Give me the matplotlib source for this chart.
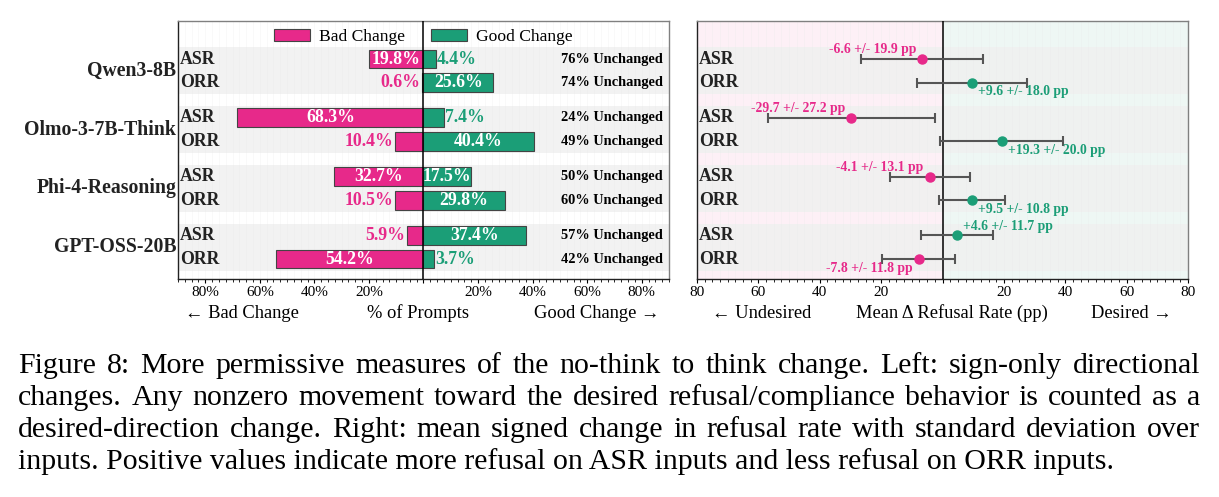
import numpy as np
import matplotlib
matplotlib.use('Agg')
import matplotlib.pyplot as plt
from matplotlib.ticker import MultipleLocator, FuncFormatter

plt.rcParams['font.family'] = ['Liberation Serif', 'DejaVu Serif']

##------------------------------------- DATA -------------------------------------
models = ['Qwen3-8B', 'Olmo-3-7B-Think', 'Phi-4-Reasoning', 'GPT-OSS-20B']
rows = ['ASR', 'ORR']

# left panel: % of prompts with bad / good directional change (ASR, ORR per model)
bad_change = [19.8, 0.6, 68.3, 10.4, 32.7, 10.5, 5.9, 54.2]
good_change = [4.4, 25.6, 7.4, 40.4, 17.5, 29.8, 37.4, 3.7]

# right panel: mean signed change in refusal rate (pp) and std
mean_delta = [-6.6, 9.6, -29.7, 19.3, -4.1, 9.5, 4.6, -7.8]
std_delta = [19.9, 18.0, 27.2, 20.0, 13.1, 10.8, 11.7, 11.8]

caption = [
    "Figure 8: More permissive measures of the no-think to think change. Left: sign-only directional",
    "changes. Any nonzero movement toward the desired refusal/compliance behavior is counted as a",
    "desired-direction change. Right: mean signed change in refusal rate with standard deviation over",
    "inputs. Positive values indicate more refusal on ASR inputs and less refusal on ORR inputs.",
]

PINK = '#E7298A'
GREEN = '#1B9E77'

##------------------------------------- LAYOUT -------------------------------------
W, H = 1219, 497
fig = plt.figure(figsize=(W / 100, H / 100), dpi=100)

def px_axes(x0, y0, x1, y1):
    return fig.add_axes([x0 / W, 1 - y1 / H, (x1 - x0) / W, (y1 - y0) / H])

axL = px_axes(178, 21, 669, 279)
axR = px_axes(697, 21, 1188, 279)

centers = np.arange(len(models)) * 2.5
ypos = np.ravel([[c - 0.5, c + 0.5] for c in centers])

def style_axes(ax, xmax, fmt):
    ax.set_xlim(-xmax, xmax)
    ax.set_ylim(8.85, -2.115)
    ax.set_yticks([])
    for c in centers:
        ax.axhspan(c - 1, c + 1, color='#f0f0f0', alpha=0.85, lw=0, zorder=0.5)
    ax.xaxis.set_major_locator(MultipleLocator(20))
    ax.xaxis.set_minor_locator(MultipleLocator(2.5))
    ax.xaxis.set_major_formatter(FuncFormatter(fmt))
    ax.tick_params(axis='x', which='both', direction='out', length=3, width=0.8,
                   pad=2, labelsize=11, top=False)
    ax.tick_params(axis='x', which='minor', length=2, width=0.6)
    ax.grid(axis='x', which='both', color='#e8e8e8', lw=0.5, alpha=0.35, zorder=0.6)
    ax.set_axisbelow(True)
    for s in ['top', 'right']:
        ax.spines[s].set_color('#808080')
    for s in ['left', 'bottom']:
        ax.spines[s].set_color('#222222')
    for sp in ax.spines.values():
        sp.set_linewidth(1.0)
    ax.axvline(0, color='black', lw=1.1, zorder=3)
    for y, r in zip(ypos, rows * len(models)):
        ax.text(0.004, y, r, transform=ax.get_yaxis_transform(), ha='left', va='center',
                fontsize=12.8, fontweight='bold', color='#222222', zorder=5)

##------------------------------------- LEFT PANEL -------------------------------------
style_axes(axL, 90, lambda v, p: '' if abs(v) < 1e-9 else f'{abs(v):.0f}%')

axL.barh(ypos, [-b for b in bad_change], height=0.8, color=PINK, edgecolor='#444444',
         lw=0.8, zorder=2, label='Bad Change')
axL.barh(ypos, good_change, height=0.8, color=GREEN, edgecolor='#444444',
         lw=0.8, zorder=2, label='Good Change')

for y, b, g in zip(ypos, bad_change, good_change):
    if b > 15:
        axL.text(-b / 2, y, f'{b:.1f}%', ha='center', va='center', color='white',
                 fontsize=12.8, fontweight='bold', zorder=4)
    else:
        axL.text(-b - 0.7, y, f'{b:.1f}%', ha='right', va='center', color=PINK,
                 fontsize=12.8, fontweight='bold', zorder=4)
    if g > 15:
        axL.text(g / 2, y, f'{g:.1f}%', ha='center', va='center', color='white',
                 fontsize=12.8, fontweight='bold', zorder=4)
    else:
        axL.text(g + 0.5, y, f'{g:.1f}%', ha='left', va='center', color=GREEN,
                 fontsize=12.8, fontweight='bold', zorder=4)
    unchanged = 100 - b - g
    axL.text(0.988, y, f'{unchanged:.0f}% Unchanged', transform=axL.get_yaxis_transform(),
             ha='right', va='center', fontsize=10.4, fontweight='bold', color='black', zorder=4)

axL.legend(loc='upper center', bbox_to_anchor=(0.5, 1.03), ncol=2, frameon=False,
           fontsize=12.6, handlelength=2.05, handletextpad=0.5, columnspacing=1.5)

for c, m in zip(centers, models):
    axL.text(-0.004, c, m, transform=axL.get_yaxis_transform(), ha='right', va='center',
             fontsize=14.2, fontweight='bold', color='#222222')

##------------------------------------- RIGHT PANEL -------------------------------------
style_axes(axR, 80, lambda v, p: '' if abs(v) < 1e-9 else f'{abs(v):.0f}')
axR.axvspan(-80, 0, color='#fdf0f6', lw=0, zorder=0.1)
axR.axvspan(0, 80, color='#eef7f4', lw=0, zorder=0.1)

for i, (y, m, s) in enumerate(zip(ypos, mean_delta, std_delta)):
    col = GREEN if m > 0 else PINK
    axR.errorbar(m, y, xerr=s, fmt='none', ecolor='#555555', elinewidth=1.5,
                 capsize=3.5, capthick=1.5, zorder=3)
    axR.plot(m, y, 'o', color=col, ms=6.5, zorder=4)
    dy = 6.5 if i % 2 == 0 else -6.5
    dx = 4.5 if m > 0 else -4.5
    axR.annotate(f'{m:+.1f} +/- {s:.1f} pp', (m, y), xytext=(dx, dy), textcoords='offset points',
                 ha='left' if m > 0 else 'right', va='center', color=col,
                 fontsize=9.8, fontweight='bold', zorder=5)

##------------------------------------- AXIS CAPTIONS -------------------------------------
fs_lab = 13.3
fig.text(185 / W, 1 - 313 / H, '← Bad Change', ha='left', va='center', fontsize=fs_lab)
fig.text(418 / W, 1 - 313 / H, '% of Prompts', ha='center', va='center', fontsize=fs_lab)
fig.text(659 / W, 1 - 313 / H, 'Good Change →', ha='right', va='center', fontsize=fs_lab)
fig.text(712 / W, 1 - 313 / H, '← Undesired', ha='left', va='center', fontsize=fs_lab)
fig.text(951.5 / W, 1 - 313 / H, 'Mean Δ Refusal Rate (pp)', ha='center', va='center', fontsize=fs_lab)
fig.text(1172 / W, 1 - 313 / H, 'Desired →', ha='right', va='center', fontsize=fs_lab)

##------------------------------------- FIGURE CAPTION (justified) -------------------------------------
fig.canvas.draw()
r = fig.canvas.get_renderer()
left_px, right_px = 18, 1200
line_y = [366, 398, 430, 462]

# size font so that the last (unjustified) line has its measured width
probe = fig.text(0, 0, caption[-1], fontsize=20)
w_probe = probe.get_window_extent(r).width
probe.remove()
fs_cap = 20 * (1113 - left_px) / w_probe

for k, (line, yp) in enumerate(zip(caption, line_y)):
    if k == len(caption) - 1:
        fig.text(left_px / W, 1 - yp / H, line, ha='left', va='center', fontsize=fs_cap)
        continue
    words = line.split()
    ts = [fig.text(0, 1 - yp / H, w, ha='left', va='center', fontsize=fs_cap) for w in words]
    widths = [t.get_window_extent(r).width for t in ts]
    gap = (right_px - left_px - sum(widths)) / (len(words) - 1)
    x = left_px
    for t, w in zip(ts, widths):
        t.set_x(x / W)
        x += w + gap

fig.savefig('out.png', dpi=100)
